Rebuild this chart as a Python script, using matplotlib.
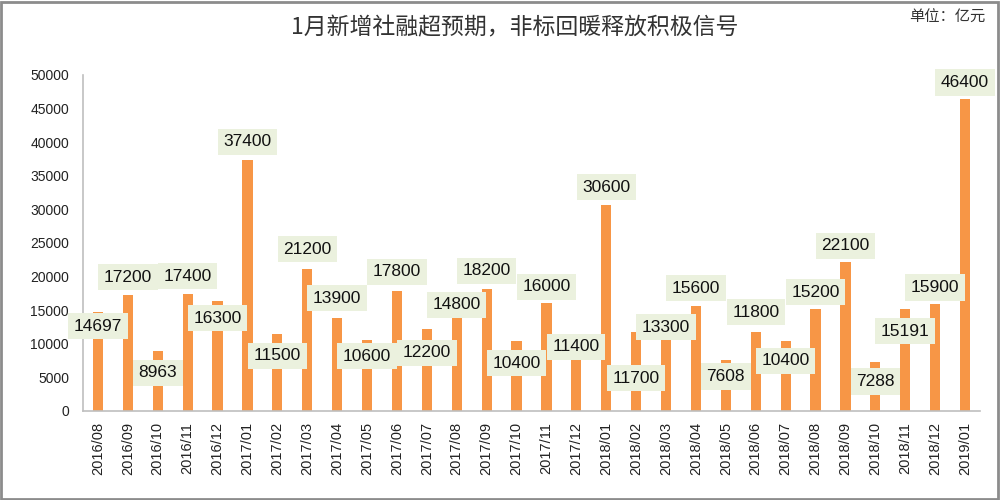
import numpy as np
import matplotlib.pyplot as plt
from matplotlib.patches import Rectangle

months = ["2016/08", "2016/09", "2016/10", "2016/11", "2016/12",
          "2017/01", "2017/02", "2017/03", "2017/04", "2017/05", "2017/06",
          "2017/07", "2017/08", "2017/09", "2017/10", "2017/11", "2017/12",
          "2018/01", "2018/02", "2018/03", "2018/04", "2018/05", "2018/06",
          "2018/07", "2018/08", "2018/09", "2018/10", "2018/11", "2018/12",
          "2019/01"]
tsf = [14697, 17200, 8963, 17400, 16300,
       37400, 11500, 21200, 13900, 10600, 17800,
       12200, 14800, 18200, 10400, 16000, 11400,
       30600, 11700, 13300, 15600, 7608, 11800,
       10400, 15200, 22100, 7288, 15191, 15900,
       46400]

# label offset from bar top, in points (positive = above)
label_dy = [-10, 13, -16, 13, -12, 13, -16, 14, 14, -12, 14,
            -17, 5, 13, -16, 12, -9, 13, -33, -4, 13, -12, 14,
            -14, 12, 12, -14, -16, 12, 12]

BAR = "#F79646"
BOX = "#EBF1DE"

plt.rcParams["font.family"] = ["Liberation Sans", "Noto Sans CJK SC", "DejaVu Sans"]

fig = plt.figure(figsize=(10, 5), dpi=100)
ax = fig.add_axes([0.083, 0.178, 0.897, 0.672])

x = np.arange(len(months))
ax.bar(x, tsf, width=0.34, color=BAR, zorder=2)
for xi, v, dy in zip(x, tsf, label_dy):
    ax.annotate(f"{v}", (xi, v), xytext=(0, dy), textcoords="offset points",
                ha="center", va="center", fontsize=12.5, color="#111111", zorder=3,
                bbox=dict(boxstyle="square,pad=0.32", fc=BOX, ec="none"))

ax.set_xlim(-0.5, len(months) - 0.5)
ax.set_ylim(0, 50000)
ax.set_yticks(np.arange(0, 50001, 5000))
ax.set_xticks(x)
ax.set_xticklabels(months, rotation=90, fontsize=10.5, color="#222222")
ax.tick_params(axis="y", labelsize=10, colors="#222222", length=0, pad=10)
ax.tick_params(axis="x", length=0, pad=8)
for s in ["top", "right"]:
    ax.spines[s].set_visible(False)
for s in ["left", "bottom"]:
    ax.spines[s].set_color("#BFBFBF")
    ax.spines[s].set_linewidth(1.2)

fig.text(0.515, 0.944, "1月新增社融超预期，非标回暖释放积极信号", ha="center", va="center",
         fontsize=16.5, color="#333333", family=["Noto Sans CJK SC", "DejaVu Sans"])
fig.text(0.947, 0.966, "单位：亿元", ha="center", va="center",
         fontsize=11, color="#333333", family=["Noto Sans CJK SC", "DejaVu Sans"])

fig.patches.append(Rectangle((0.001, 0.002), 0.997, 0.995, transform=fig.transFigure,
                             fill=False, ec="#8C8C8C", lw=2))

fig.savefig("out.png", dpi=100)
